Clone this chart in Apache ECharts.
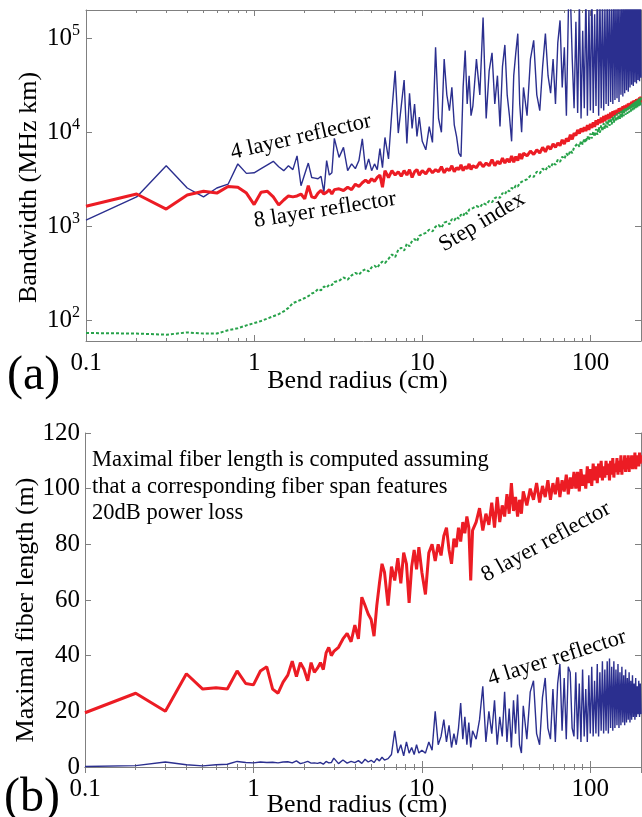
<!DOCTYPE html>
<html>
<head>
<meta charset="utf-8">
<script src="https://cdn.jsdelivr.net/npm/echarts@6/dist/echarts.min.js"></script>
<style>
  html, body { margin: 0; padding: 0; background: #fff; }
  #chart { width: 642px; height: 817px; }
</style>
</head>
<body>
<div id="chart"></div>
<script>
// bend radius (cm), shared by all curves
var radius = [
  0.1, 0.2, 0.3, 0.4, 0.5, 0.6, 0.7, 0.8, 0.9, 1,
  1.1, 1.2, 1.3, 1.4, 1.5, 1.6, 1.7, 1.8, 1.9, 2, 2.1, 2.2, 2.3, 2.4, 2.5, 2.6, 2.7, 2.8, 2.9, 3,
  3.2, 3.4, 3.6, 3.8, 4, 4.2, 4.4, 4.6, 4.8, 5, 5.2, 5.4, 5.6, 5.8, 6,
  6.3, 6.6, 6.9, 7.2, 7.5, 7.8, 8.1, 8.4, 8.7, 9, 9.3, 9.6, 10,
  10.5, 11, 11.5, 12, 12.5, 13, 13.5, 14, 14.5, 15, 15.5, 16, 16.5, 17, 17.5, 18, 18.5, 19, 19.5, 20,
  21, 22, 23, 24, 25, 26, 27, 28, 29, 30, 31, 32, 33, 34, 35, 36, 37, 38, 39, 40,
  42, 44, 46, 48, 50, 52, 54, 56, 58, 60, 62, 64, 66, 68, 70, 72, 74, 76, 78, 80,
  82, 84, 86, 88, 90, 92, 94, 96, 98, 100, 102, 104, 106, 108, 110, 112, 114, 116, 118, 120,
  122, 124, 126, 128, 130, 132, 134, 136, 138, 140, 142, 144, 146, 148, 150, 152, 154, 156, 158, 160,
  162, 164, 166, 168, 170, 172, 174, 176, 178, 180, 182, 184, 186, 188, 190, 192, 194, 196, 198, 200
];

// (a) bandwidth, MHz km
var bw4Layer = [
  1160, 2050, 4400, 2550, 2050, 2550, 2800, 4600, 3650, 3700,
  4100, 4500, 4900, 4300, 3900, 4400, 4000, 5600, 2700, 3600, 4700, 3300, 3250, 3200, 3400, 2300, 5000, 3500, 3700, 8600,
  5400, 6900, 3900, 4600, 4100, 5000, 8500, 4000, 5200, 3900, 4600, 4000, 6700, 4200, 8800,
  5200, 17000, 45000, 9800, 19000, 36000, 7600, 26000, 11000, 20000, 9000, 14500, 8000,
  6500, 11500, 7800, 80000, 14000, 10000, 60000, 25000, 17000, 30000, 12000, 9000, 6000, 5500, 30000, 74000, 20000, 40000, 15000, 19000,
  60000, 25000, 166000, 14000, 45000, 70000, 20000, 40000, 11500, 50000, 85000, 25000, 15000, 8000, 40000, 70000, 112000, 20000, 10000, 30000,
  15000, 60000, 95000, 25000, 17000, 50000, 112000, 40000, 26000, 60000, 20000, 90000, 155000, 30000, 80000, 15000, 200000, 300000, 60000, 18000,
  150000, 16000, 250000, 14000, 120000, 18000, 300000, 15000, 200000, 17000, 350000, 16000, 180000, 19000, 400000, 15000, 260000, 18000, 320000, 17000,
  220000, 20000, 380000, 19000, 300000, 21000, 250000, 20000, 400000, 22000, 300000, 23000, 350000, 21000, 280000, 25000, 400000, 24000, 320000, 26000,
  380000, 28000, 300000, 27000, 420000, 30000, 350000, 32000, 400000, 31000, 380000, 34000, 420000, 33000, 400000, 36000, 450000, 35000, 400000, 38000
];
var bw8Layer = [
  1630, 2200, 1520, 2150, 2350, 2250, 2650, 2600, 2250, 1700,
  2300, 2350, 2050, 1680, 1900, 2100, 2050, 2100, 2200, 1950, 2700, 2050, 2000, 2250, 2400, 2200, 2300, 2450, 2200, 2450,
  2500, 2400, 2600, 2450, 2800, 2650, 2900, 3100, 2900, 3200, 3000, 3300, 3500, 2600, 3900,
  3300, 3900, 3500, 3800, 3400, 3900, 3500, 4000, 3300, 3800, 4000, 3500, 3900,
  3600, 4100, 3700, 4000, 3800, 4300, 3700, 4100, 3900, 4400, 3800, 4200, 4000, 4500, 3900, 4300, 4100, 4600, 4000, 4400,
  4200, 4800, 4300, 4700, 4400, 5100, 4400, 4900, 4600, 5300, 4700, 5200, 4800, 5600, 4800, 5500, 5000, 5900, 5200, 6000,
  5600, 6300, 5800, 6500, 6000, 6900, 6200, 7100, 6600, 7500, 6900, 7700, 7200, 8300, 7500, 8600, 8000, 9400, 8400, 9800,
  9200, 10600, 9700, 11000, 10100, 11300, 10300, 11900, 10600, 12300, 11100, 12700, 11400, 13400, 12000, 13700, 12500, 14300, 12700, 14900,
  13100, 15200, 13700, 15600, 14000, 16200, 14300, 16700, 14900, 17000, 15200, 17300, 15700, 18000, 16000, 18200, 16500, 18900, 16700, 19300,
  17100, 19600, 17700, 20200, 18000, 20500, 18500, 21100, 18700, 21600, 19200, 21900, 19700, 22500, 20000, 22800, 20500, 23400, 20800, 24000
];
var bwStepIndex = [
  73, 72, 70, 74, 72, 72, 78, 82, 88, 93,
  98, 104, 110, 116, 124, 135, 152, 158, 165, 172, 180, 192, 198, 215, 208, 228, 222, 240, 236, 255,
  262, 285, 270, 300, 318, 305, 335, 348, 330, 365, 380, 360, 400, 420, 405,
  450, 500, 470, 560, 590, 550, 650, 610, 700, 730, 690, 790, 820,
  850, 920, 880, 990, 1030, 960, 1090, 1120, 1050, 1190, 1150, 1260, 1200, 1330, 1280, 1420, 1350, 1500, 1440, 1560,
  1640, 1580, 1760, 1700, 1860, 1800, 1990, 2060, 2000, 2250, 2180, 2420, 2350, 2560, 2480, 2720, 2640, 2880, 2800, 3050,
  3150, 3450, 3350, 3800, 3650, 4100, 3900, 4400, 4200, 4750, 4500, 5100, 4850, 5500, 5200, 5950, 5600, 6400, 6000, 6900,
  6600, 7600, 7000, 8100, 7400, 8600, 7800, 9100, 8200, 9700, 8600, 10200, 9000, 10800, 9400, 11300, 9900, 11900, 10300, 12500,
  10800, 13000, 11200, 13600, 11700, 14100, 12100, 14700, 12600, 15200, 13000, 15800, 13500, 16300, 13900, 16900, 14400, 17400, 14800, 18000,
  15300, 18500, 15700, 19100, 16200, 19600, 16600, 20200, 17100, 20700, 17500, 21300, 18000, 21800, 18400, 22400, 18900, 22900, 19300, 23500
];

// (b) maximal fiber length, m
var len8Layer = [
  19.5, 26.5, 20, 33.5, 28, 28.5, 28, 34.5, 30, 29.5,
  34.5, 36, 28, 26.5, 30.5, 33, 38, 32.5, 37.5, 35, 31, 37.5, 34, 35.5, 37.5, 35, 41, 43, 40, 41.5,
  43, 46, 48, 45, 51, 46, 61, 58, 55, 53, 47, 58, 66, 73, 70,
  58, 72, 67, 75, 66, 77, 73, 59, 72, 78, 71, 79, 70,
  62, 77, 80, 74, 80, 76, 83, 86, 78, 73, 82, 79, 86, 81, 88, 84, 90, 86, 67, 85,
  88, 93, 85, 91, 87, 95, 86, 97, 88, 94, 90, 98, 91, 102, 92, 97, 90, 96, 91, 99,
  94, 100, 96, 102, 95, 101, 97, 103, 96, 102, 98, 104, 97, 103, 99, 105, 98, 104, 100, 106,
  100, 106, 99, 107, 101, 105, 100, 108, 102, 107, 101, 109, 103, 108, 102, 109, 104, 110, 103, 108,
  104, 110, 105, 109, 103, 110, 105, 111, 104, 109, 106, 111, 105, 110, 106, 112, 105, 110, 107, 112,
  106, 111, 107, 112, 106, 111, 108, 112, 107, 111, 108, 113, 107, 111, 109, 112, 108, 113, 109, 112
];
var len4Layer = [
  0.2, 0.5, 1.8, 0.8, 0.4, 0.8, 1.0, 2.0, 1.6, 1.5,
  1.8, 1.6, 1.7, 1.5, 1.8, 1.9, 1.5, 2.2, 1.2, 1.6, 2.0, 1.4, 1.5, 1.3, 1.6, 1.0, 2.0, 1.5, 1.6, 3.2,
  1.2, 2.5, 1.4, 2.0, 1.6, 2.3, 1.3, 2.8, 1.8, 2.4, 1.6, 3.0, 2.2, 3.5, 2.5,
  3, 4.5, 13, 5, 8, 4, 9, 5, 7, 4.5, 8, 5, 6,
  5, 9, 6, 20, 8, 11, 17, 9, 15, 7, 12, 8, 14, 23, 10, 18, 8, 16, 7, 13,
  10, 17, 29, 9, 20, 12, 24, 8, 18, 11, 27, 9, 21, 7, 24, 12, 26, 8, 5, 22,
  10, 27, 31, 12, 8, 25, 32, 14, 10, 28, 9, 30, 37, 13, 32, 10, 36, 34, 14, 11,
  34, 10, 30, 9, 35, 11, 28, 9, 33, 12, 36, 11, 31, 12, 37, 11, 34, 13, 38, 12,
  35, 13, 38, 12, 39, 14, 36, 13, 38, 14, 35, 15, 37, 14, 34, 15, 36, 16, 33, 15,
  35, 16, 32, 17, 34, 16, 31, 17, 33, 18, 30, 17, 32, 18, 29, 19, 31, 18, 30, 19
];

var serif = "'Liberation Serif', 'Times New Roman', serif";
var boxColor = '#808080';

function pairs(vals) {
  return radius.map(function (r, i) { return [r, vals[i]]; });
}

// only decades get a label
function decade(v) {
  var e = Math.round(Math.log(v) / Math.LN10);
  return Math.abs(v / Math.pow(10, e) - 1) < 1e-6 ? e : null;
}
function radiusLabel(v) {
  var e = decade(v);
  if (e === null) return '';
  return e < 0 ? '0.1' : String(Math.pow(10, e));
}
function powLabel(v) {
  var e = decade(v);
  if (e === null) return '';
  return '{b|10}{s|' + e + '}';
}

var axisLine = { show: true, lineStyle: { color: boxColor, width: 1 } };
var tickIn = { show: true, inside: true, length: 6, lineStyle: { color: boxColor } };
var minorIn = { show: true, splitNumber: 9, length: 3, lineStyle: { color: boxColor } };
var nameStyle = { fontFamily: serif, fontSize: 26, color: '#000', padding: [0, 12, 0, 0] };

function xAxes(grid, labelMargin, nameGap) {
  return [
    {
      gridIndex: grid, type: 'log', min: 0.1, max: 200, position: 'bottom',
      axisLine: axisLine, axisTick: tickIn, minorTick: minorIn, splitLine: { show: false },
      axisLabel: { formatter: radiusLabel, color: '#000', fontFamily: serif, fontSize: 25, margin: labelMargin },
      name: 'Bend radius (cm)', nameLocation: 'middle', nameGap: nameGap, nameMoveOverlap: false,
      nameTextStyle: nameStyle
    },
    {
      gridIndex: grid, type: 'log', min: 0.1, max: 200, position: 'top',
      axisLine: axisLine, axisTick: tickIn, minorTick: minorIn, axisLabel: { show: false }, splitLine: { show: false }
    }
  ];
}

var chart = echarts.init(document.getElementById('chart'));

chart.setOption({
  animation: false,
  backgroundColor: '#fff',
  grid: [
    { left: 86, right: 1, top: 10, height: 331, outerBoundsMode: 'none', containLabel: false },
    { left: 85, right: 1, top: 433, height: 334, outerBoundsMode: 'none', containLabel: false }
  ],
  xAxis: xAxes(0, 10, 27).concat(xAxes(1, 10, 25)),
  yAxis: [
    {
      gridIndex: 0, type: 'log', min: 60, max: 200000, position: 'left',
      axisLine: axisLine, axisTick: tickIn, splitLine: { show: false },
      axisLabel: {
        formatter: powLabel, margin: 6,
        rich: {
          b: { fontFamily: serif, fontSize: 25, color: '#000', lineHeight: 30 },
          s: { fontFamily: serif, fontSize: 16, color: '#000', verticalAlign: 'top', lineHeight: 30, padding: [0, 0, 12, 0] }
        }
      },
      name: 'Bandwidth (MHz km)', nameLocation: 'middle', nameGap: 44, nameRotate: 90, nameMoveOverlap: false,
      nameTextStyle: { fontFamily: serif, fontSize: 26, color: '#000', padding: [0, 24, 0, 0] }
    },
    {
      gridIndex: 0, type: 'log', min: 60, max: 200000, position: 'right',
      axisLine: axisLine, axisTick: tickIn, axisLabel: { show: false }, splitLine: { show: false }
    },
    {
      gridIndex: 1, type: 'value', min: 0, max: 120, interval: 20, position: 'left',
      axisLine: axisLine, axisTick: tickIn, splitLine: { show: false },
      axisLabel: { color: '#000', fontFamily: serif, fontSize: 25, margin: 5 },
      name: 'Maximal fiber length (m)', nameLocation: 'middle', nameGap: 46, nameRotate: 90, nameMoveOverlap: false,
      nameTextStyle: { fontFamily: serif, fontSize: 26, color: '#000', padding: [0, 20, 0, 0] }
    },
    {
      gridIndex: 1, type: 'value', min: 0, max: 120, interval: 20, position: 'right',
      axisLine: axisLine, axisTick: tickIn, axisLabel: { show: false }, splitLine: { show: false }
    }
  ],
  series: [
    {
      name: '4 layer reflector', type: 'line', xAxisIndex: 0, yAxisIndex: 0,
      data: pairs(bw4Layer), showSymbol: false,
      lineStyle: { color: '#2b2f8f', width: 1.4 }
    },
    {
      name: '8 layer reflector', type: 'line', xAxisIndex: 0, yAxisIndex: 0,
      data: pairs(bw8Layer), showSymbol: false,
      lineStyle: { color: '#ec1c24', width: 3 }
    },
    {
      name: 'Step index', type: 'line', xAxisIndex: 0, yAxisIndex: 0,
      data: pairs(bwStepIndex), showSymbol: false,
      lineStyle: { color: '#27a24a', width: 2, type: [3, 2] }
    },
    {
      name: '8 layer reflector', type: 'line', xAxisIndex: 2, yAxisIndex: 2,
      data: pairs(len8Layer), showSymbol: false,
      lineStyle: { color: '#ec1c24', width: 3 }
    },
    {
      name: '4 layer reflector', type: 'line', xAxisIndex: 2, yAxisIndex: 2,
      data: pairs(len4Layer), showSymbol: false,
      lineStyle: { color: '#2b2f8f', width: 1.4 }
    }
  ],
  graphic: [
    { type: 'text', x: 7, y: 376, z: 10, style: { text: '(a)', font: '48px ' + serif, fill: '#000', verticalAlign: 'middle' } },
    { type: 'text', x: 4, y: 798, z: 10, style: { text: '(b)', font: '48px ' + serif, fill: '#000', verticalAlign: 'middle' } },
    { type: 'text', x: 301, y: 137, rotation: 13 * Math.PI / 180, z: 10,
      style: { text: '4 layer reflector', font: '22.5px ' + serif, fill: '#000', align: 'center', verticalAlign: 'middle' } },
    { type: 'text', x: 325, y: 210, rotation: 9 * Math.PI / 180, z: 10,
      style: { text: '8 layer reflector', font: '22.5px ' + serif, fill: '#000', align: 'center', verticalAlign: 'middle' } },
    { type: 'text', x: 482, y: 222, rotation: 31 * Math.PI / 180, z: 10,
      style: { text: 'Step index', font: '22.5px ' + serif, fill: '#000', align: 'center', verticalAlign: 'middle' } },
    { type: 'text', x: 92, y: 447, z: 10,
      style: {
        text: 'Maximal fiber length is computed assuming\nthat a corresponding fiber span features\n20dB power loss',
        font: '22.5px ' + serif, lineHeight: 26.5, fill: '#000', align: 'left', verticalAlign: 'top'
      } },
    { type: 'text', x: 546, y: 542, rotation: 29 * Math.PI / 180, z: 10,
      style: { text: '8 layer reflector', font: '22.5px ' + serif, fill: '#000', align: 'center', verticalAlign: 'middle' } },
    { type: 'text', x: 557, y: 658, rotation: 17.5 * Math.PI / 180, z: 10,
      style: { text: '4 layer reflector', font: '22.5px ' + serif, fill: '#000', align: 'center', verticalAlign: 'middle' } }
  ]
});
</script>
</body>
</html>
